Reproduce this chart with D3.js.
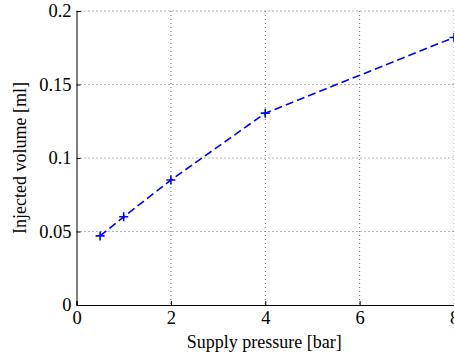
<!DOCTYPE html>
<html>
<head>
<meta charset="utf-8">
<script src="https://cdn.jsdelivr.net/npm/d3@7"></script>
<style>
  body { margin: 0; background: #fff; }
  svg { display: block; }
  svg text { font-family: "Liberation Serif", "DejaVu Serif", serif; fill: #000; }
</style>
</head>
<body>
<svg width="454" height="354"></svg>
<script>
// data
var pressure = [0.5, 1, 2, 4, 8];
var volume = [0.047, 0.060, 0.085, 0.1305, 0.182];
var xTicks = [0, 2, 4, 6, 8];
var yTicks = [0, 0.05, 0.1, 0.15, 0.2];

var margin = {left: 76.5, right: 0, top: 11, bottom: 49};
var width = 454 - margin.left - margin.right,
    height = 354 - margin.top - margin.bottom;

var svg = d3.select("svg");
var g = svg.append("g").attr("transform", "translate(" + margin.left + "," + margin.top + ")");

var x = d3.scaleLinear().domain([0, 8]).range([0, width]);
var y = d3.scaleLinear().domain([0, 0.2]).range([height, 0]);

// grid
g.selectAll(".gx").data(xTicks.slice(1)).enter().append("line")
    .attr("x1", function(d) { return x(d); }).attr("x2", function(d) { return x(d); })
    .attr("y1", 0).attr("y2", height)
    .attr("stroke", "#444").attr("stroke-width", 0.8).attr("stroke-dasharray", "1,3");
g.selectAll(".gy").data(yTicks.slice(1)).enter().append("line")
    .attr("x1", 0).attr("x2", width)
    .attr("y1", function(d) { return y(d); }).attr("y2", function(d) { return y(d); })
    .attr("stroke", "#444").attr("stroke-width", 0.8).attr("stroke-dasharray", "1,3");

// axes, ticks pointing inwards like matlab
var xAxis = d3.axisBottom(x).tickValues(xTicks).tickSize(-4).tickPadding(6).tickFormat(d3.format("d"));
var yAxis = d3.axisLeft(y).tickValues(yTicks).tickSize(-4).tickPadding(5)
    .tickFormat(function(d) { return d === 0 ? "0" : String(+d.toFixed(2)); });

var gx = g.append("g").attr("transform", "translate(0," + height + ")").call(xAxis);
var gy = g.append("g").call(yAxis);
[gx, gy].forEach(function(a) {
  a.attr("font-family", null).attr("font-size", null);
  a.select(".domain").attr("stroke", "#000").attr("stroke-width", 1);
  a.selectAll(".tick line").attr("stroke", "#000");
  a.selectAll("text").style("font-size", "18.5px");
});

// line + markers
var line = d3.line().x(function(d, i) { return x(pressure[i]); }).y(function(d) { return y(d); });
g.append("path").datum(volume)
    .attr("d", line).attr("fill", "none")
    .attr("stroke", "#0000ff").attr("stroke-width", 1.6).attr("stroke-dasharray", "8,4");

var s = 4.5;
g.selectAll(".mk").data(volume).enter().append("path")
    .attr("d", function(d, i) {
      var px = x(pressure[i]), py = y(d);
      return "M" + (px - s) + "," + py + "H" + (px + s) + "M" + px + "," + (py - s) + "V" + (py + s);
    })
    .attr("stroke", "#0000ff").attr("stroke-width", 1.6);

// labels
svg.append("text").attr("x", margin.left + x(4) - 1).attr("y", 348)
    .attr("text-anchor", "middle").style("font-size", "18px").text("Supply pressure [bar]");
svg.append("text").attr("transform", "translate(26," + (margin.top + height / 2) + ") rotate(-90)")
    .attr("text-anchor", "middle").style("font-size", "18px").text("Injected volume [ml]");
</script>
</body>
</html>
